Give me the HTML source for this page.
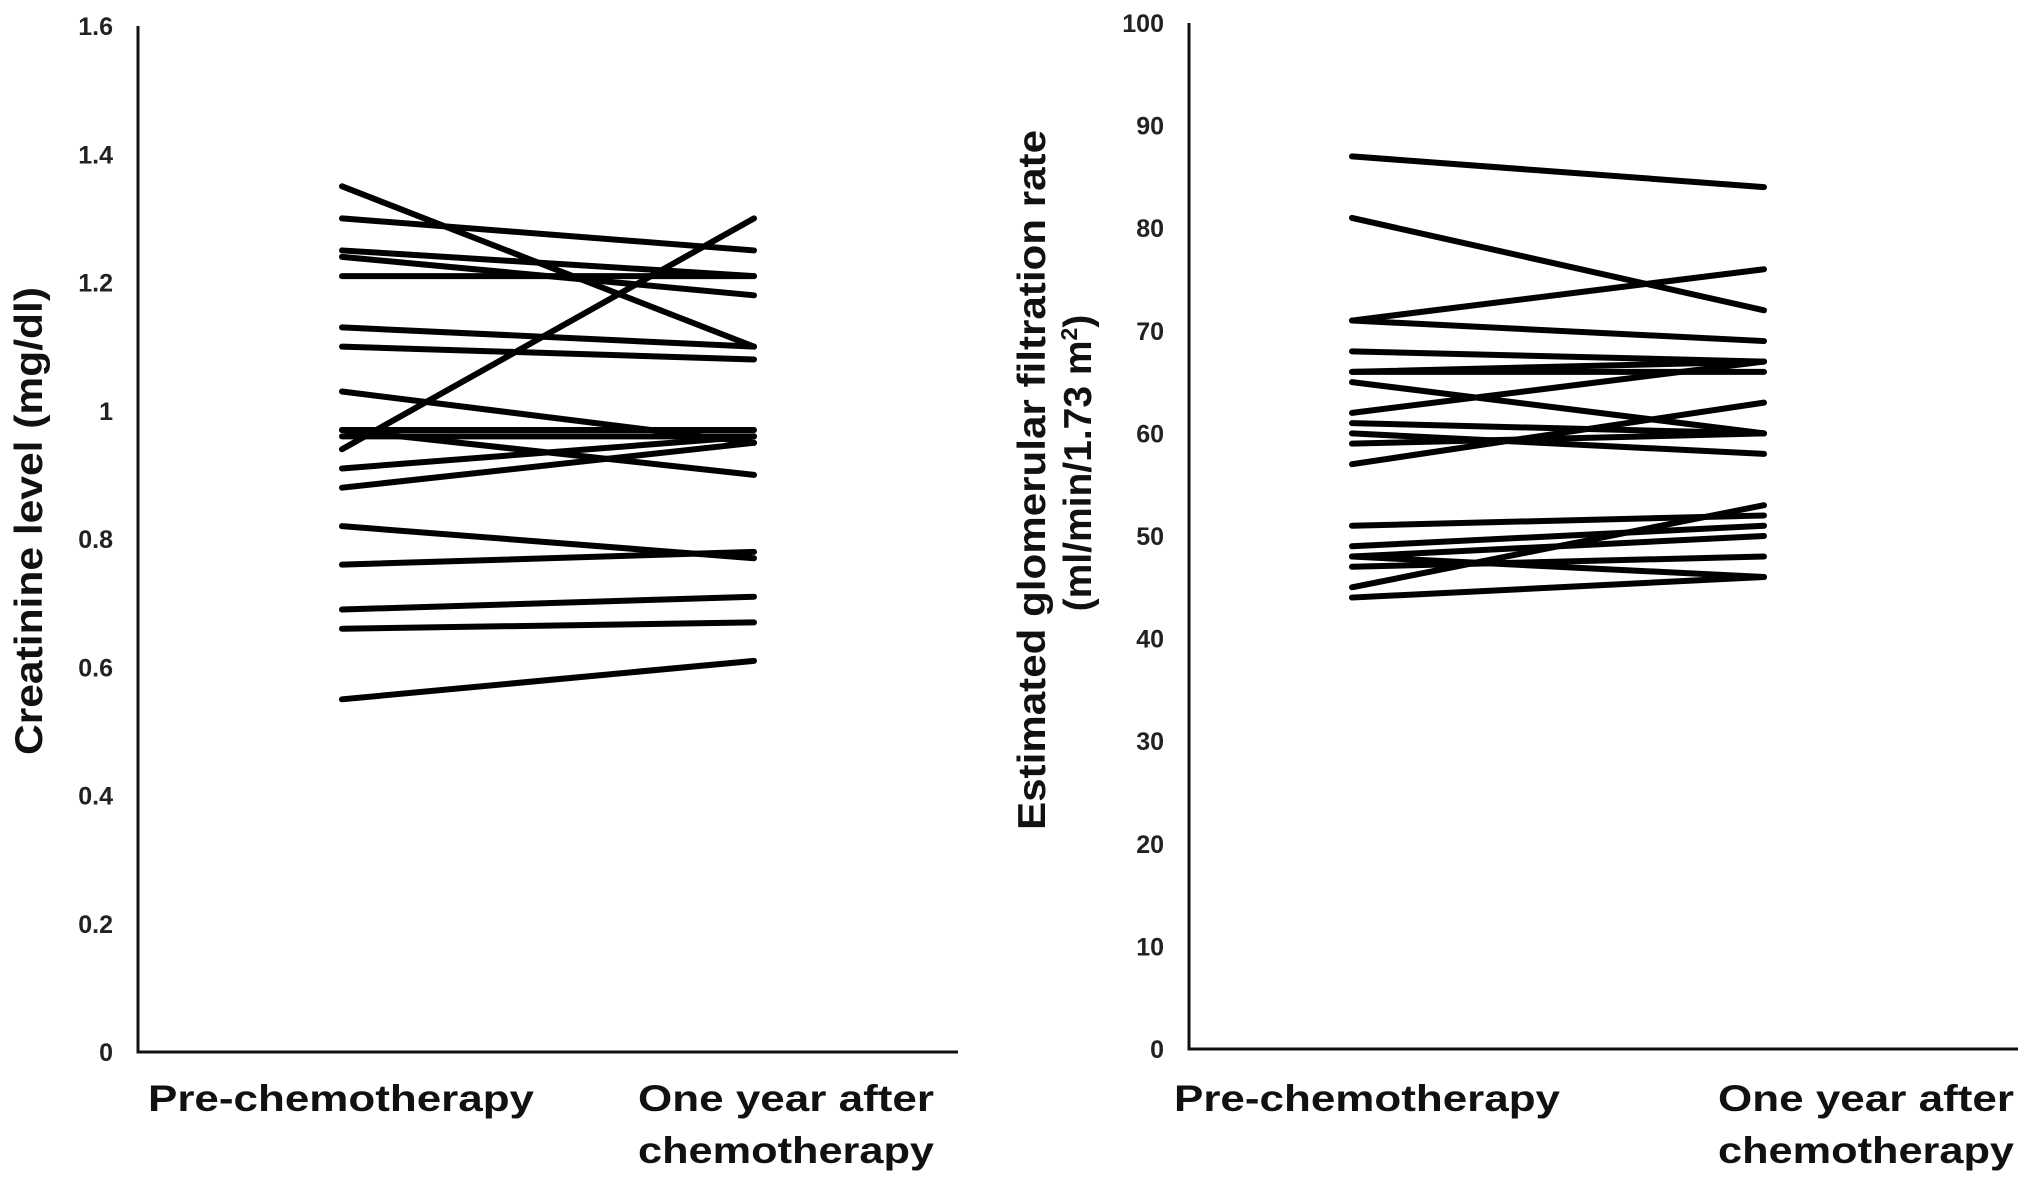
<!DOCTYPE html>
<html><head><meta charset="utf-8"><style>
html,body{margin:0;padding:0;background:#fff;}
svg{display:block;font-family:"Liberation Sans",Arial,sans-serif;}
.tick{font-size:25px;font-weight:bold;fill:#222;text-anchor:end;}
.cat{font-size:37px;font-weight:bold;fill:#111;text-anchor:middle;}
.ttl{font-size:39px;font-weight:bold;fill:#111;text-anchor:middle;}
</style></head><body>
<svg id="chart" width="2031" height="1181" viewBox="0 0 2031 1181">
<g id="left"></g>
<g id="right"></g>
</svg>
<script>
const creatPre  = [1.35,1.30,1.25,1.24,1.21,1.13,1.10,1.03,0.97,0.97,0.96,0.94,0.91,0.88,0.82,0.76,0.69,0.66,0.55];
const creatPost = [1.10,1.25,1.21,1.18,1.21,1.10,1.08,0.95,0.97,0.90,0.96,1.30,0.96,0.95,0.77,0.78,0.71,0.67,0.61];
const creatTicks = ["0","0.2","0.4","0.6","0.8","1","1.2","1.4","1.6"];
const egfrPre  = [87,81,71,71,68,66,66,65,62,61,60,59,57,51,49,48,48,47,45,44];
const egfrPost = [84,72,76,69,67,67,66,60,67,60,58,60,63,52,51,50,46,48,53,46];
const egfrTicks = ["0","10","20","30","40","50","60","70","80","90","100"];
const NS="http://www.w3.org/2000/svg";
function mk(parent,tag,attrs){const e=document.createElementNS(NS,tag);for(const k in attrs)e.setAttribute(k,attrs[k]);parent.appendChild(e);return e;}
function draw(g,cfg){
  const y=v=>cfg.y0+(v-cfg.min)/(cfg.max-cfg.min)*(cfg.y1-cfg.y0);
  const ax=mk(g,'path',{d:`M${cfg.ax} ${cfg.y1} L${cfg.ax} ${cfg.y0} L${cfg.axEnd} ${cfg.y0}`,fill:'none',stroke:'#111','stroke-width':3});
  
  
  cfg.ticks.forEach(t=>{
    const tx=mk(g,'text',{x:cfg.ax-25,y:y(parseFloat(t))+9,class:'tick'});tx.textContent=t;
    
    
  });
  cfg.pre.forEach((v,i)=>{
    const l=mk(g,'line',{x1:cfg.xa,y1:y(v),x2:cfg.xb,y2:y(cfg.post[i]),stroke:'#000','stroke-width':6,'stroke-linecap':'round'});
    
    
  });
  const c1=mk(g,'text',{x:cfg.xl,y:1111,class:'cat',textLength:386,lengthAdjust:'spacingAndGlyphs'});c1.textContent='Pre-chemotherapy';
  
  
  const c2=mk(g,'text',{x:cfg.xc,y:1111,class:'cat',textLength:296,lengthAdjust:'spacingAndGlyphs'});c2.textContent='One year after';
  
  
  const c3=mk(g,'text',{x:cfg.xc,y:1163,class:'cat',textLength:296,lengthAdjust:'spacingAndGlyphs'});c3.textContent='chemotherapy';
  
  
}
draw(document.getElementById('left'),{ax:138,axEnd:958,y0:1052,y1:26,min:0,max:1.6,xa:342,xb:754,xl:341,xc:786,ticks:creatTicks,pre:creatPre,post:creatPost});
draw(document.getElementById('right'),{ax:1189,axEnd:2018,y0:1049,y1:23,min:0,max:100,xa:1352,xb:1764,xl:1367,xc:1866,ticks:egfrTicks,pre:egfrPre,post:egfrPost});
const L=document.getElementById('left'),R=document.getElementById('right');
let t=mk(L,'text',{x:0,y:0,class:'ttl',transform:'translate(42,521) rotate(-90)',textLength:468,lengthAdjust:'spacingAndGlyphs'});t.textContent='Creatinine level (mg/dl)';


t=mk(R,'text',{x:0,y:0,class:'ttl',transform:'translate(1045,480) rotate(-90)',textLength:700,lengthAdjust:'spacingAndGlyphs'});t.textContent='Estimated glomerular filtration rate';


t=mk(R,'text',{x:0,y:0,class:'ttl',transform:'translate(1091,463) rotate(-90)'});
t.innerHTML='(ml/min/1.73 m<tspan dy="-14" font-size="23">2</tspan><tspan dy="14">)</tspan>';


</script>
</body></html>
